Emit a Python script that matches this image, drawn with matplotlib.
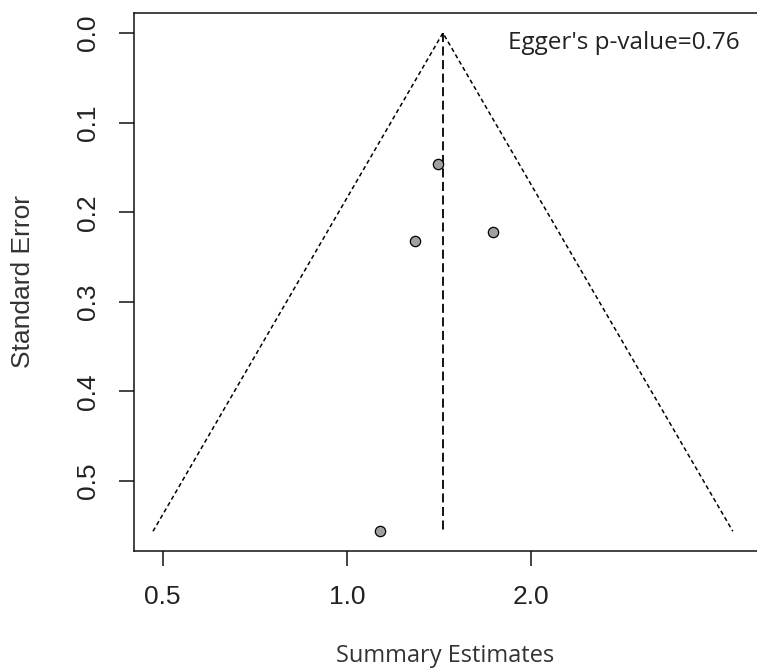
import numpy as np
import matplotlib
matplotlib.use("Agg")
import matplotlib.pyplot as plt

# Study estimates (ratio scale) and their standard errors
estimates = [1.408, 1.291, 1.731, 1.132]
std_errors = [0.146, 0.232, 0.222, 0.556]
summary_estimate = 1.434
egger_text = "Egger's p-value=0.76"
x_ticks = [0.5, 1.0, 2.0]
x_tick_labels = ["0.5", "1.0", "2.0"]
y_ticks = [0.0, 0.1, 0.2, 0.3, 0.4, 0.5]
y_tick_labels = ["0.0", "0.1", "0.2", "0.3", "0.4", "0.5"]

W, H = 757, 670
fig = plt.figure(figsize=(W / 100, H / 100), dpi=100)
ax = fig.add_axes([134 / W, (H - 551) / H, 1 - 134 / W, (551 - 13) / H])

se_max = max(std_errors)
z = 1.96
# funnel
lo = summary_estimate * np.exp(-z * se_max)
hi = summary_estimate * np.exp(z * se_max)
ax.plot([lo, summary_estimate, hi], [se_max, 0, se_max], color="black",
        lw=1.1, linestyle=(0, (2.8, 2)))
ax.plot([summary_estimate, summary_estimate], [0, se_max], color="black",
        lw=1.3, linestyle=(0, (5, 2.5)))
ax.scatter(estimates, std_errors, s=55, facecolor="#a0a0a0",
           edgecolor="black", linewidth=0.9, zorder=3)

ax.set_xscale("log")
ax.set_xlim(0.449, 4.67)
ax.set_ylim(0.578, -0.0223)
ax.set_xticks(x_ticks)
ax.set_xticklabels(x_tick_labels)
ax.minorticks_off()
ax.set_yticks(y_ticks)
ax.set_yticklabels(y_tick_labels, rotation=90, va="center")

for s in ["left", "bottom", "top"]:
    ax.spines[s].set_linewidth(1.1)
    ax.spines[s].set_color("#111111")
ax.spines["right"].set_visible(False)

ax.tick_params(axis="both", length=10.8, width=1.1, color="#111111",
               labelsize=19, labelcolor="#222222", pad=14)
for lab in ax.get_xticklabels() + ax.get_yticklabels():
    lab.set_fontfamily("Liberation Sans")

fig.text(740 / W, 1 - 43 / H, egger_text, ha="right", va="center",
         fontsize=17.5, family="Open Sans", color="#222222")

fig.text(445 / W, 1 - 656 / H, "Summary Estimates", ha="center", va="center",
         fontsize=17, family="Open Sans", color="#333333")
fig.text(23 / W, 1 - 282 / H, "Standard Error", ha="center", va="center",
         rotation=90, fontsize=19, family="Liberation Sans", color="#333333")

fig.savefig("out.png", dpi=100)
